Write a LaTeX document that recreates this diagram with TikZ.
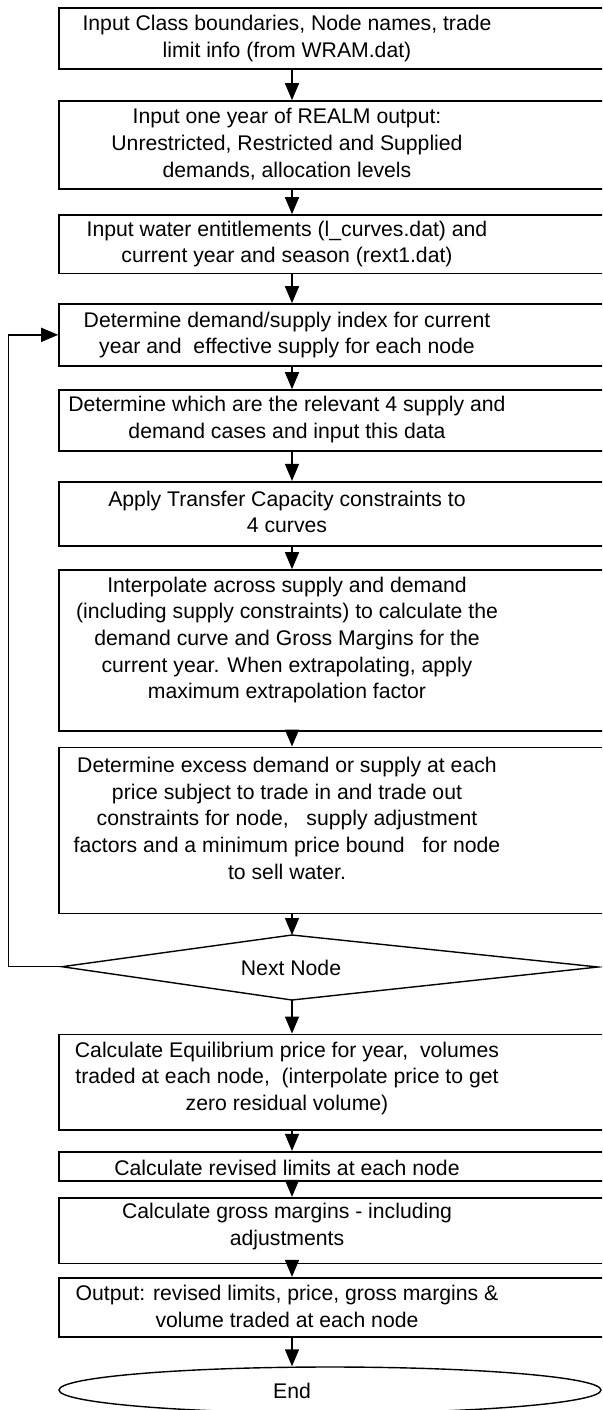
\documentclass[tikz,border=0pt]{standalone}
\usepackage{fontspec}
\setmainfont{Liberation Sans}
\usetikzlibrary{arrows.meta,shapes.geometric}
\tikzset{
  stepbox/.style={draw=black, line width=1.6pt, fill=white, rectangle, inner sep=0pt, minimum width=561pt},
  steptext/.style={align=center, inner sep=0pt, font=\fontsize{21.2pt}{26.7pt}\selectfont},
  arr/.style={line width=1.5pt, -{Triangle[length=17pt,width=14pt]}},
  shapeline/.style={draw=black, line width=1.4pt}
}
\begin{document}
\begin{tikzpicture}[x=1pt,y=-1pt]
\useasboundingbox (0,0) rectangle (602,1410);
\fill[white] (0,0) rectangle (602,1410);
\clip (0,0) rectangle (602,1410);
\coordinate (ax) at (292,0);
\coordinate (lp) at (8.3,0);

\node[stepbox, minimum height=61pt]   (b1)  at (339.5,38.8)  {};
\node[stepbox, minimum height=87.7pt] (b2)  at (339.5,144.85) {};
\node[stepbox, minimum height=58.3pt] (b3)  at (339.5,244.15) {};
\node[stepbox, minimum height=61.7pt] (b4)  at (339.5,334.85) {};
\node[stepbox, minimum height=61pt]   (b5)  at (339.5,420.5) {};
\node[stepbox, minimum height=64pt]   (b6)  at (339.5,513.7) {};
\node[stepbox, minimum height=160.7pt] (b7) at (339.5,650.35) {};
\node[stepbox, minimum height=166pt]  (b8)  at (339.5,830.3) {};
\node[stepbox, minimum height=95.7pt] (b9)  at (339.5,1082.15) {};
\node[stepbox, minimum height=29pt]   (b10) at (339.5,1166.2) {};
\node[stepbox, minimum height=65.6pt] (b11) at (339.5,1230.5) {};
\node[stepbox, minimum height=59pt]   (b12) at (339.5,1307.2) {};

\node[steptext] (t1) at (287,38.5) {Input Class boundaries, Node names, trade\\limit info (from WRAM.dat)};
\node[steptext] (t2) at (287,144) {Input one year of REALM output:\\Unrestricted, Restricted and Supplied\\demands, allocation levels};
\node[steptext] (t3) at (287,244) {Input water entitlements (l\_curves.dat) and\\current year and season (rext1.dat)};
\node[steptext] (t4) at (287,335) {Determine demand/supply index for current\\year and\ \ effective supply for each node};
\node[steptext] (t5) at (287,419.7) {Determine which are the relevant 4 supply and\\demand cases and input this data};
\node[steptext] (t6) at (287,512) {Apply Transfer Capacity constraints to\\4 curves};
\node[steptext] (t7) at (287,640) {Interpolate across supply and demand\\(including supply constraints) to calculate the\\demand curve and Gross Margins for the\\current year. When extrapolating, apply\\maximum extrapolation factor};
\node[steptext] (t8) at (287,818.3) {Determine excess demand or supply at each\\price subject to trade in and trade out\\constraints for node,\ \ \ supply adjustment\\factors and a minimum price bound\ \ \ for node\\to sell water.};
\node[steptext] (t9) at (287,1078.3) {Calculate Equilibrium price for year,\ \ volumes\\traded at each node,\ \ (interpolate price to get\\zero residual volume)};
\node[steptext] (t10) at (287,1168.3) {Calculate revised limits at each node};
\node[steptext] (t11) at (287,1226.7) {Calculate gross margins - including\\adjustments};
\node[steptext] (t12) at (287,1306.7) {Output: revised limits, price, gross margins \&\\volume traded at each node};

% decision
\coordinate (dT) at (292,935);
\coordinate (dL) at (62,966.7);
\coordinate (dB) at (292,1000);
\coordinate (dR) at (598,967);
\draw[shapeline, fill=white] (dT) -- (dR) -- (dB) -- (dL) -- cycle;
\node[steptext] (tn) at (291,968) {Next Node};

% end
\node[ellipse, shapeline, fill=white, minimum width=542pt, minimum height=46pt, inner sep=0pt] (endn) at (330,1390) {};
\node[steptext] (te) at (292,1390.5) {End};

% connectors
\draw[arr] (b1.south -| ax) -- (b2.north -| ax);
\draw[arr] (b2.south -| ax) -- (b3.north -| ax);
\draw[arr] (b3.south -| ax) -- (b4.north -| ax);
\draw[arr] (b4.south -| ax) -- (b5.north -| ax);
\draw[arr] (b5.south -| ax) -- (b6.north -| ax);
\draw[arr] (b6.south -| ax) -- (b7.north -| ax);
\draw[arr] (b7.south -| ax) -- (b8.north -| ax);
\draw[arr] (b8.south -| ax) -- (dT);
\draw[arr] (dB) -- (b9.north -| ax);
\draw[arr] (b9.south -| ax) -- (b10.north -| ax);
\draw[arr] (b10.south -| ax) -- (b11.north -| ax);
\draw[arr] (b11.south -| ax) -- (b12.north -| ax);
\draw[arr] (b12.south -| ax) -- (endn.north -| ax);
\draw[arr] (dL) -- (dL -| lp) |- (b4.west);
\end{tikzpicture}
\end{document}
